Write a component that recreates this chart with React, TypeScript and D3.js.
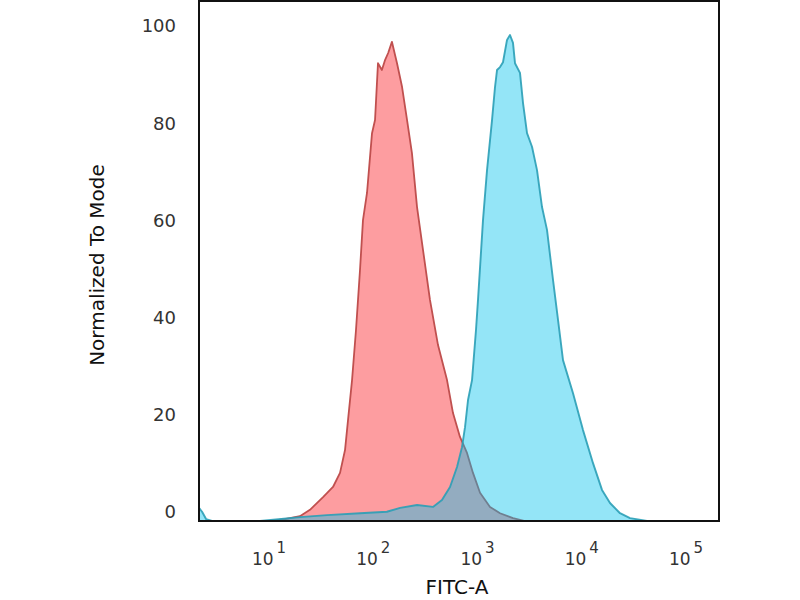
import { useEffect, useRef } from 'react';
import * as d3 from 'd3';

// isotype control (red) and stained sample (blue), FITC intensity vs % of mode
const isotypeFitc = [
  10.2, 14.2, 19.8, 24.7, 33.0, 41.1, 48.0, 53.6, 57.3, 62.6, 68.3, 74.6, 79.7, 87.1, 97.3, 104, 111, 121,
  130, 139, 151, 169, 189, 211, 235, 263, 300, 350, 418, 510, 582, 679, 793, 905, 1057, 1318, 1644, 2190,
  2855,
];
const isotypeMode = [
  0, 0.4, 1.0, 2.3, 4.9, 7.0, 9.9, 14.6, 20.8, 29.0, 39.3, 51.6, 61.9, 67.5, 79.8, 82.5, 94.2, 92.8, 94.9,
  96.3, 98.6, 94.2, 89.3, 82.5, 75.7, 64.6, 55.8, 45.5, 36.2, 29.0, 22.2, 17.3, 14.0, 9.9, 5.8, 2.9, 1.6,
  0.6, 0,
];

const stainedFitc = [
  2.13, 2.28, 2.49, 2.84, 8.2, 19.8, 36.0, 74.6, 135, 181, 263, 374, 456, 545, 636, 710, 759, 811, 886, 967,
  1011, 1129, 1234, 1378, 1472, 1539, 1644, 1756, 1919, 2050, 2190, 2289, 2556, 2733, 2985, 3333, 3722,
  4157, 4642, 5300, 5920, 6609, 8245, 10280, 12822, 15640, 18660, 23280, 29030, 42250,
];
const stainedMode = [
  2.7, 1.9, 0.4, 0, 0, 0.8, 1.2, 1.6, 1.9, 2.7, 3.3, 2.9, 4.3, 7.0, 11.1, 15.2, 19.3, 24.9, 29.0, 39.3,
  45.5, 61.9, 72.2, 82.5, 89.3, 92.8, 93.4, 94.4, 99.0, 100, 98.4, 94.2, 92.2, 86.0, 79.8, 77.0, 72.2, 64.6,
  59.9, 49.6, 41.4, 33.1, 26.3, 18.7, 11.9, 6.4, 3.7, 1.6, 0.6, 0,
];

const yTicks = [0, 20, 40, 60, 80, 100];
const xDecades = [1, 2, 3, 4, 5];

type Pt = { fitc: number; mode: number };

export default function App() {
  const ref = useRef<SVGSVGElement>(null);
  const width = 800;
  const height = 600;

  useEffect(() => {
    if (!ref.current) return;
    const svg = d3.select(ref.current);
    svg.selectAll('*').remove();

    const margin = { top: 1, left: 199 };
    const innerW = 520;
    const innerH = 520;

    const g = svg.append('g').attr('transform', `translate(${margin.left},${margin.top})`);

    const x = d3
      .scaleLog()
      .domain([10 ** 0.3285, 10 ** 5.3165])
      .range([0, innerW]);
    const y = d3.scaleLinear().domain([0, 107]).range([innerH, 0]);

    const isotype: Pt[] = isotypeFitc.map((f, i) => ({ fitc: f, mode: isotypeMode[i] }));
    const stained: Pt[] = stainedFitc.map((f, i) => ({ fitc: f, mode: stainedMode[i] }));

    svg
      .append('defs')
      .append('clipPath')
      .attr('id', 'plot-clip')
      .append('rect')
      .attr('width', innerW)
      .attr('height', innerH);

    const area = d3
      .area<Pt>()
      .x((d) => x(d.fitc))
      .y0(innerH)
      .y1((d) => y(d.mode));
    const line = d3
      .line<Pt>()
      .x((d) => x(d.fitc))
      .y((d) => y(d.mode));

    const plot = g.append('g').attr('clip-path', 'url(#plot-clip)');

    plot.append('path').datum(isotype).attr('fill', '#fd9da0').attr('d', area);
    plot
      .append('path')
      .datum(isotype)
      .attr('fill', 'none')
      .attr('stroke', '#c0504f')
      .attr('stroke-width', 1.8)
      .attr('stroke-linejoin', 'round')
      .attr('d', line);

    plot.append('path').datum(stained).attr('fill', 'rgb(0,192,237)').attr('fill-opacity', 0.42).attr('d', area);
    plot
      .append('path')
      .datum(stained)
      .attr('fill', 'none')
      .attr('stroke', '#2a9fb6')
      .attr('stroke-opacity', 0.9)
      .attr('stroke-width', 1.9)
      .attr('stroke-linejoin', 'round')
      .attr('d', line);

    g.append('rect')
      .attr('width', innerW)
      .attr('height', innerH)
      .attr('fill', 'none')
      .attr('stroke', '#111')
      .attr('stroke-width', 2);

    // y labels sit a little above their value, like FlowJo does
    const labelLift = 9;
    g.append('g')
      .selectAll('text')
      .data(yTicks)
      .join('text')
      .attr('x', -23)
      .attr('y', (d) => y(d) - labelLift)
      .attr('dy', '0.36em')
      .attr('text-anchor', 'end')
      .attr('font-family', 'DejaVu Sans')
      .attr('font-size', 18)
      .attr('fill', '#333')
      .text((d) => d);

    const xl = g
      .append('g')
      .selectAll('text')
      .data(xDecades)
      .join('text')
      .attr('x', (d) => x(10 ** d))
      .attr('y', innerH + 44)
      .attr('text-anchor', 'middle')
      .attr('font-family', 'DejaVu Sans')
      .attr('font-size', 17)
      .attr('fill', '#333');
    xl.append('tspan').text('10');
    xl.append('tspan')
      .attr('dx', 3)
      .attr('dy', -12)
      .attr('font-size', 15)
      .text((d) => d);

    svg
      .append('text')
      .attr('x', 457)
      .attr('y', 594)
      .attr('text-anchor', 'middle')
      .attr('font-family', 'DejaVu Sans')
      .attr('font-size', 20)
      .attr('fill', '#111')
      .text('FITC-A');

    svg
      .append('text')
      .attr('transform', 'translate(97,265) rotate(-90)')
      .attr('text-anchor', 'middle')
      .attr('dy', '0.36em')
      .attr('font-family', 'DejaVu Sans')
      .attr('font-size', 20)
      .attr('fill', '#111')
      .text('Normalized To Mode');
  }, []);

  return (
    <svg
      ref={ref}
      width={width}
      height={height}
      style={{ position: 'absolute', left: 0, top: 0, background: '#fff' }}
    />
  );
}
